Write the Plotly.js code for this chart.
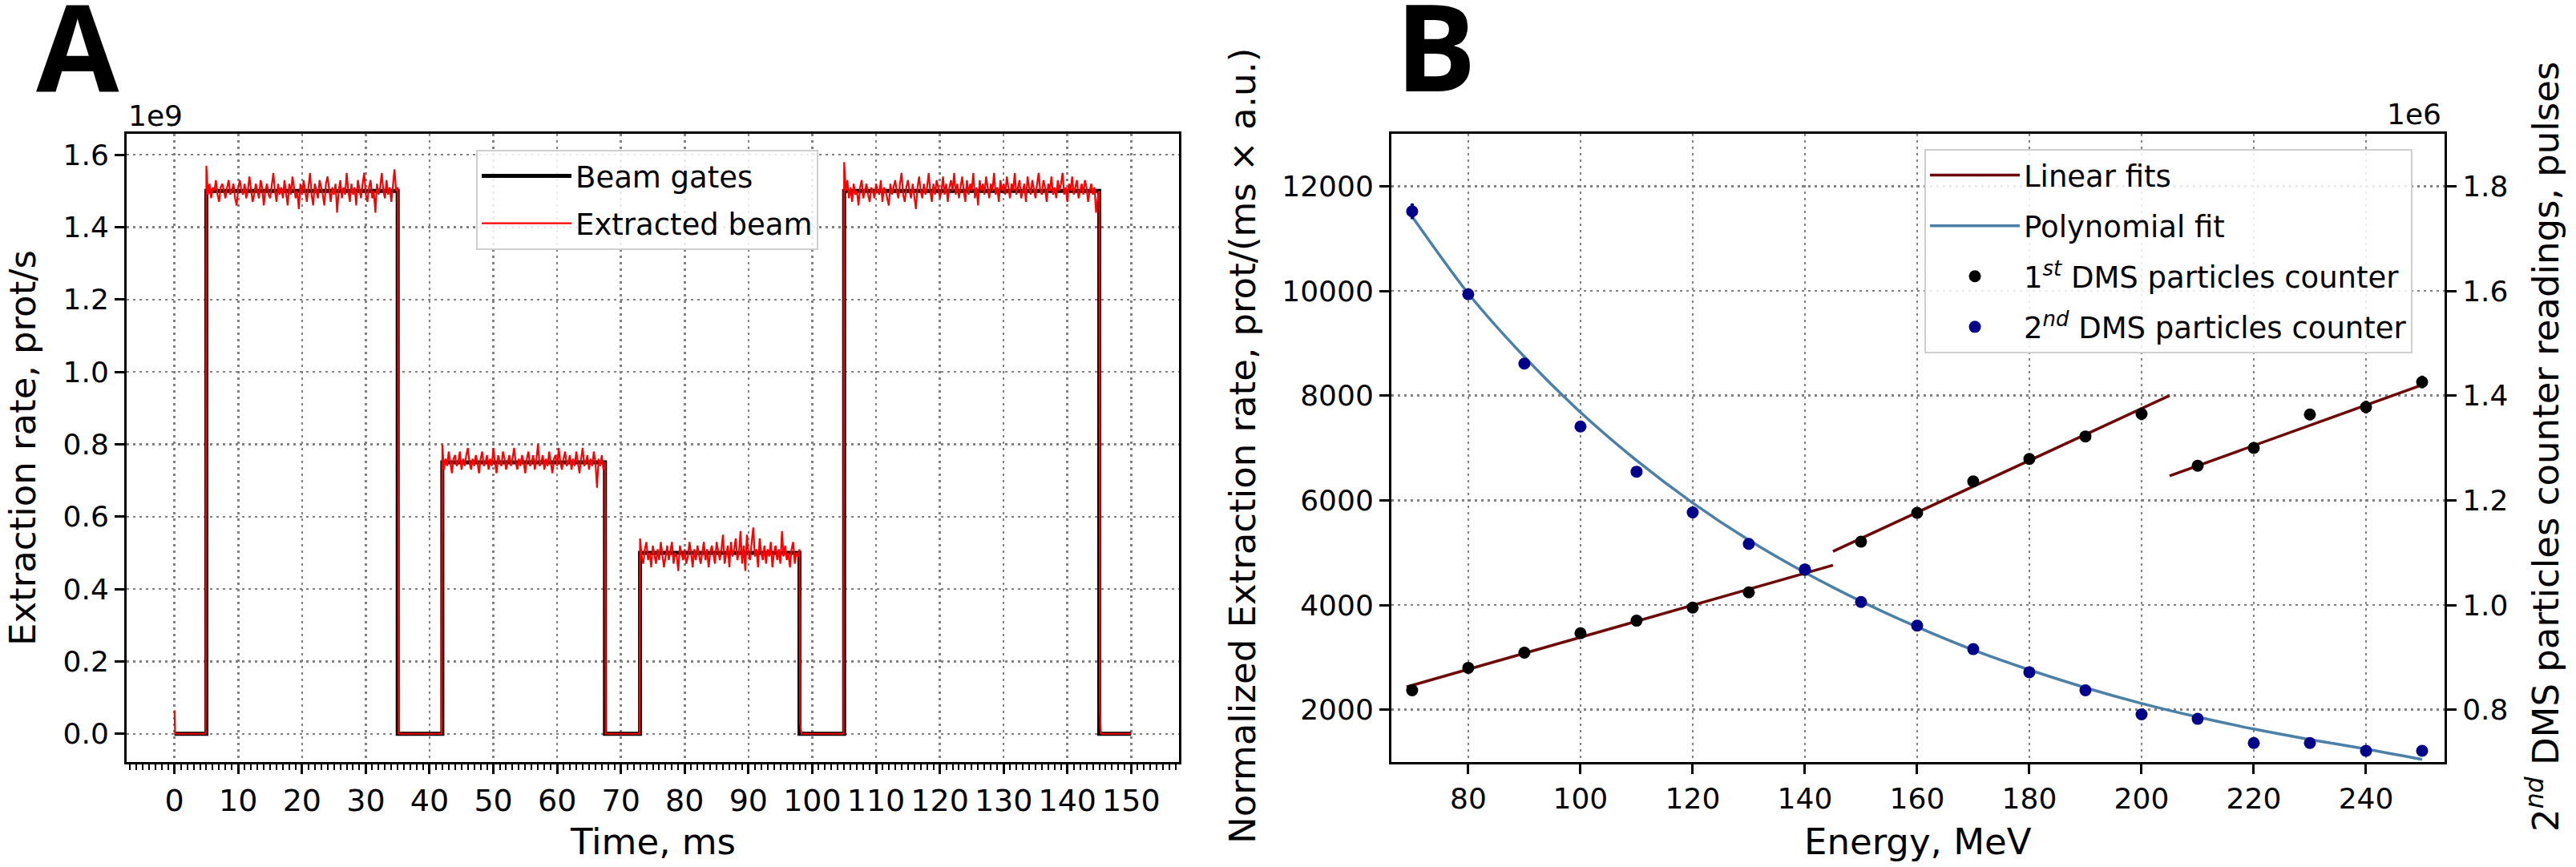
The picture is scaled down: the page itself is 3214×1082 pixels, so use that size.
<!DOCTYPE html>
<html>
<head>
<meta charset="utf-8">
<script src="https://cdn.plot.ly/plotly-3.0.1.min.js"></script>
<style>
  html, body { margin: 0; padding: 0; background: #fff; }
  #chart { width: 3214px; height: 1082px; }
</style>
</head>
<body>
<div id="chart"></div>
<script>
// ---------- Panel A: beam gates vs extracted beam ----------
const gateTime = [0, 5, 5, 35, 35, 42, 42, 67.5, 67.5, 73, 73, 98, 98, 105, 105, 145, 145, 150];
const gateRate = [0, 0, 1.5e9, 1.5e9, 0, 0, 0.75e9, 0.75e9, 0, 0, 0.5e9, 0.5e9, 0, 0, 1.5e9, 1.5e9, 0, 0];

// extracted beam while gate is open, sampled every 0.25 ms, in units of 1e7 prot/s
const beamStep = 0.25;
const beamStart = [5, 42, 73, 105];
const beamOn1 = [
  157,149,152,148,151,150,153,149,147,151,
  152,150,148,151,153,149,150,152,148,146,
  151,153,150,149,152,148,150,154,151,147,
  149,152,150,148,153,151,146,150,152,149,
  148,151,155,150,147,152,149,151,148,153,
  150,146,152,149,154,151,148,150,145,152,
  149,153,150,147,151,155,149,146,152,150,
  148,153,151,149,146,152,154,150,147,151,
  149,152,144,150,153,148,151,149,155,150,
  147,152,149,151,146,153,150,148,152,155,
  149,147,151,153,148,150,144,152,149,151,
  155,150,148,153,149,151,147,152,156,150,
  151];
const beamOn2 = [
  80,73,76,74,78,75,72,76,77,74,
  75,78,73,76,74,77,79,75,73,76,
  74,77,75,72,76,78,74,75,77,73,
  76,74,79,75,72,77,75,74,78,76,
  73,75,77,74,76,79,75,73,76,74,
  77,75,72,76,78,74,75,77,73,76,
  80,74,75,77,73,76,74,78,75,72,
  76,77,74,79,75,73,76,78,74,75,
  77,73,76,74,78,75,72,76,79,74,
  75,77,73,76,74,78,75,68,76,74,
  77,73,75];
const beamOn3 = [
  54,49,47,51,53,48,50,46,52,49,
  47,51,48,53,50,46,49,52,48,51,
  53,47,50,49,45,52,50,48,51,47,
  49,53,50,46,51,48,52,49,47,50,
  53,48,51,46,50,52,49,47,53,50,
  48,51,55,47,50,52,46,53,49,51,
  54,48,50,56,47,52,45,55,50,48,
  53,57,49,51,46,54,50,48,52,47,
  51,49,53,46,50,52,48,51,47,56,
  49,52,48,50,46,51,53,47,50,49,
  51];
const beamOn4 = [
  158,150,153,148,151,147,152,149,150,146,
  151,153,148,150,152,149,147,151,150,148,
  152,150,149,153,147,151,150,148,146,152,
  149,151,153,150,148,152,155,149,147,151,
  153,150,148,152,149,145,151,154,150,148,
  152,149,151,155,150,147,152,149,153,151,
  148,150,154,149,152,147,151,153,150,155,
  149,152,148,151,154,150,147,153,149,152,
  150,155,148,151,146,153,150,152,149,154,
  151,148,152,150,155,149,151,147,153,150,
  152,149,154,151,148,152,150,155,149,151,
  153,148,150,152,147,154,151,149,153,150,
  148,152,155,150,149,153,151,147,152,150,
  154,149,151,148,153,150,152,155,149,151,
  147,152,150,154,149,151,153,148,150,152,
  149,153,151,147,150,152,149,151,144,148,
  150];
// extracted beam while gate is closed (ms, prot/s)
const beamOffTime = [0, 0.1, 4.9, 35.15, 41.9, 67.6, 72.9, 98.1, 98.3, 104.9, 145.1, 145.25, 150];
const beamOffRate = [0.065e9, 0, 0, 0, 0, 0, 0, 0.03e9, 0, 0, 0.065e9, 0, 0];

const rateTicks = [0, 0.2e9, 0.4e9, 0.6e9, 0.8e9, 1.0e9, 1.2e9, 1.4e9, 1.6e9];
const rateTickText = ['0.0', '0.2', '0.4', '0.6', '0.8', '1.0', '1.2', '1.4', '1.6'];
const timeTicks = [0, 10, 20, 30, 40, 50, 60, 70, 80, 90, 100, 110, 120, 130, 140, 150];

// ---------- Panel B: energy dependence ----------
const energy = [70, 80, 90, 100, 110, 120, 130, 140, 150, 160, 170, 180, 190, 200, 210, 220, 230, 240, 250];
const counter1 = [2370, 2800, 3090, 3460, 3700, 3950, 4240, 4670, 5210, 5760, 6360, 6790, 7220, 7650, 6660, 7000, 7640, 7780, 8260];
const counter1Err = [60, 60, 60, 70, 70, 70, 70, 80, 80, 80, 90, 90, 100, 120, 90, 100, 110, 120, 120];
const counter2 = [1.752e6, 1.5935e6, 1.461e6, 1.341e6, 1.2546e6, 1.1767e6, 1.1167e6, 1.0679e6, 1.0058e6, 0.9607e6,
                  0.9157e6, 0.8716e6, 0.8371e6, 0.791e6, 0.7825e6, 0.7363e6, 0.7363e6, 0.7215e6, 0.7215e6];
const counter2Err = [15000, 10000, 8000, 8000, 7000, 7000, 6000, 8000, 6000, 6000, 5000, 5000, 5000, 5000, 4000, 4000, 4000, 4000, 4000];
const energyErr = 0.7;

// linear fit segments (endpoints)
const fit1E = [69, 145];   const fit1Y = [2435, 4760];
const fit2E = [145, 205];  const fit2Y = [5024, 8000];
const fit3E = [205, 250.4]; const fit3Y = [6467, 8218];
// polynomial fit through the 2nd counter
const polyFit = [1.742e6, 1.595e6, 1.474e6, 1.368e6, 1.276e6, 1.195e6, 1.124e6, 1.062e6, 1.007e6, 0.958e6,
                 0.914e6, 0.876e6, 0.842e6, 0.812e6, 0.786e6, 0.763e6, 0.743e6, 0.725e6, 0.705e6];

const energyTicks = [80, 100, 120, 140, 160, 180, 200, 220, 240];
const normTicks = [2000, 4000, 6000, 8000, 10000, 12000];
const normTickText = ['2000', '4000', '6000', '8000', '10000', '12000'];
const pulseTicks = [0.8e6, 1.0e6, 1.2e6, 1.4e6, 1.6e6, 1.8e6];
const pulseTickText = ['0.8', '1.0', '1.2', '1.4', '1.6', '1.8'];

// ---------- assemble extracted beam series ----------
const pts = [];
[beamOn1, beamOn2, beamOn3, beamOn4].forEach((seg, k) => {
  seg.forEach((v, i) => pts.push([beamStart[k] + i * beamStep, v * 1e7]));
});
beamOffTime.forEach((t, i) => pts.push([t, beamOffRate[i]]));
pts.sort((a, b) => a[0] - b[0]);

const W = 3214, H = 1082;
const px = v => v / W;
const py = v => 1 - v / H;

const FONT = 'DejaVu Sans';
const gridDash = '3px,5px';

const axisCommon = {
  showline: true, linewidth: 3, linecolor: '#000',
  ticks: 'outside', ticklen: 12, tickwidth: 3, tickcolor: '#000',
  tickfont: { family: FONT, size: 36, color: '#000' },
  showgrid: true, gridcolor: '#808080', gridwidth: 2.5, griddash: gridDash,
  zeroline: false
};

const traces = [
  {
    x: gateTime, y: gateRate, type: 'scatter', mode: 'lines',
    name: 'Beam gates', line: { color: '#000', width: 5 },
    xaxis: 'x', yaxis: 'y', legend: 'legend', legendgroup: 'a1'
  },
  {
    x: pts.map(p => p[0]), y: pts.map(p => p[1]), type: 'scatter', mode: 'lines',
    name: 'Extracted beam', line: { color: '#ff0000', width: 2.2 },
    xaxis: 'x', yaxis: 'y', legend: 'legend', legendgroup: 'a2'
  },
  {
    x: fit1E, y: fit1Y, type: 'scatter', mode: 'lines', name: 'Linear fits',
    line: { color: '#6e0606', width: 3.5 }, xaxis: 'x2', yaxis: 'y2',
    legend: 'legend2', legendgroup: 'b1'
  },
  {
    x: fit2E, y: fit2Y, type: 'scatter', mode: 'lines', name: 'Linear fits', showlegend: false,
    line: { color: '#6e0606', width: 3.5 }, xaxis: 'x2', yaxis: 'y2', legendgroup: 'b1', legend: 'legend2'
  },
  {
    x: fit3E, y: fit3Y, type: 'scatter', mode: 'lines', name: 'Linear fits', showlegend: false,
    line: { color: '#6e0606', width: 3.5 }, xaxis: 'x2', yaxis: 'y2', legendgroup: 'b1', legend: 'legend2'
  },
  {
    x: energy, y: polyFit, type: 'scatter', mode: 'lines', name: 'Polynomial fit',
    line: { color: '#4a7fa8', width: 3.5, shape: 'spline', smoothing: 0.8 },
    xaxis: 'x2', yaxis: 'y3', legend: 'legend2', legendgroup: 'b2'
  },
  {
    x: energy, y: counter1, type: 'scatter', mode: 'markers',
    name: '1<sup><i>st</i></sup> DMS particles counter',
    marker: { color: '#000', size: 15 },
    error_y: { type: 'data', array: counter1Err, color: '#000', thickness: 4, width: 0 },
    error_x: { type: 'constant', value: energyErr, color: '#000', thickness: 4, width: 0 },
    xaxis: 'x2', yaxis: 'y2', legend: 'legend2', legendgroup: 'b3'
  },
  {
    x: energy, y: counter2, type: 'scatter', mode: 'markers',
    name: '2<sup><i>nd</i></sup> DMS particles counter',
    marker: { color: '#00008b', size: 15 },
    error_y: { type: 'data', array: counter2Err, color: '#00008b', thickness: 4, width: 0 },
    error_x: { type: 'constant', value: energyErr, color: '#00008b', thickness: 4, width: 0 },
    xaxis: 'x2', yaxis: 'y3', legend: 'legend2', legendgroup: 'b4'
  }
];

const yDom = [py(951), py(167)];

const legendCommon = {
  xanchor: 'left', yanchor: 'top',
  font: { family: FONT, size: 37, color: '#000' },
  bgcolor: 'rgba(255,255,255,0.85)', bordercolor: '#cfcfcf', borderwidth: 2,
  itemwidth: 112
};

const ann = (text, x, y, size, extra) => Object.assign({
  text, x: px(x), y: py(y), xref: 'paper', yref: 'paper',
  xanchor: 'center', yanchor: 'middle', showarrow: false,
  font: { family: FONT, size, color: '#000' }
}, extra || {});

const layout = {
  width: W, height: H,
  margin: { l: 0, r: 0, t: 0, b: 0 },
  paper_bgcolor: '#fff', plot_bgcolor: '#fff',
  showlegend: true,
  xaxis: Object.assign({}, axisCommon, {
    domain: [px(158), px(1471)], range: [-7.5, 157.5], anchor: 'y',
    tickvals: timeTicks, mirror: true, tickfont: { family: FONT, size: 38, color: '#000' },
    minor: { dtick: 1, tick0: 0, ticks: 'outside', ticklen: 7, tickwidth: 2, tickcolor: '#000', showgrid: false }
  }),
  yaxis: Object.assign({}, axisCommon, {
    domain: yDom, range: [-0.078e9, 1.658e9], anchor: 'x',
    tickvals: rateTicks, ticktext: rateTickText, mirror: true
  }),
  xaxis2: Object.assign({}, axisCommon, {
    domain: [px(1736), px(3050)], range: [66.3, 254.0], anchor: 'y2',
    tickvals: energyTicks, mirror: true
  }),
  yaxis2: Object.assign({}, axisCommon, {
    domain: yDom, range: [1000, 13000], anchor: 'x2',
    tickvals: normTicks, ticktext: normTickText
  }),
  yaxis3: Object.assign({}, axisCommon, {
    range: [0.7e6, 1.9e6], anchor: 'x2', overlaying: 'y2', side: 'right',
    tickvals: pulseTicks, ticktext: pulseTickText, showgrid: false
  }),
  legend: Object.assign({}, legendCommon, { x: px(594), y: py(187), tracegroupgap: 8 }),
  legend2: Object.assign({}, legendCommon, { x: px(2401), y: py(186), tracegroupgap: 12 }),
  annotations: [
    ann('<b>A</b>', 43, 57, 150, { xanchor: 'left', font: { family: 'Open Sans', size: 150, color: '#000' } }),
    ann('<b>B</b>', 1739, 56, 150, { xanchor: 'left', font: { family: 'Open Sans', size: 150, color: '#000' } }),
    ann('1e9', 158, 144, 36, { xanchor: 'left' }),
    ann('1e6', 3048, 142, 36, { xanchor: 'right' }),
    ann('Time, ms', 814, 1050, 45),
    ann('Energy, MeV', 2393, 1050, 45),
    ann('Extraction rate, prot/s', 28, 559, 45, { textangle: -90 }),
    ann('Normalized Extraction rate, prot/(ms × a.u.)', 1550, 557, 45, { textangle: -90 }),
    ann('2<sup><i>nd</i></sup> DMS particles counter readings, pulses', 3173, 558, 45, { textangle: -90 })
  ]
};

Plotly.newPlot('chart', traces, layout, { displayModeBar: false, staticPlot: true });
</script>
</body>
</html>
